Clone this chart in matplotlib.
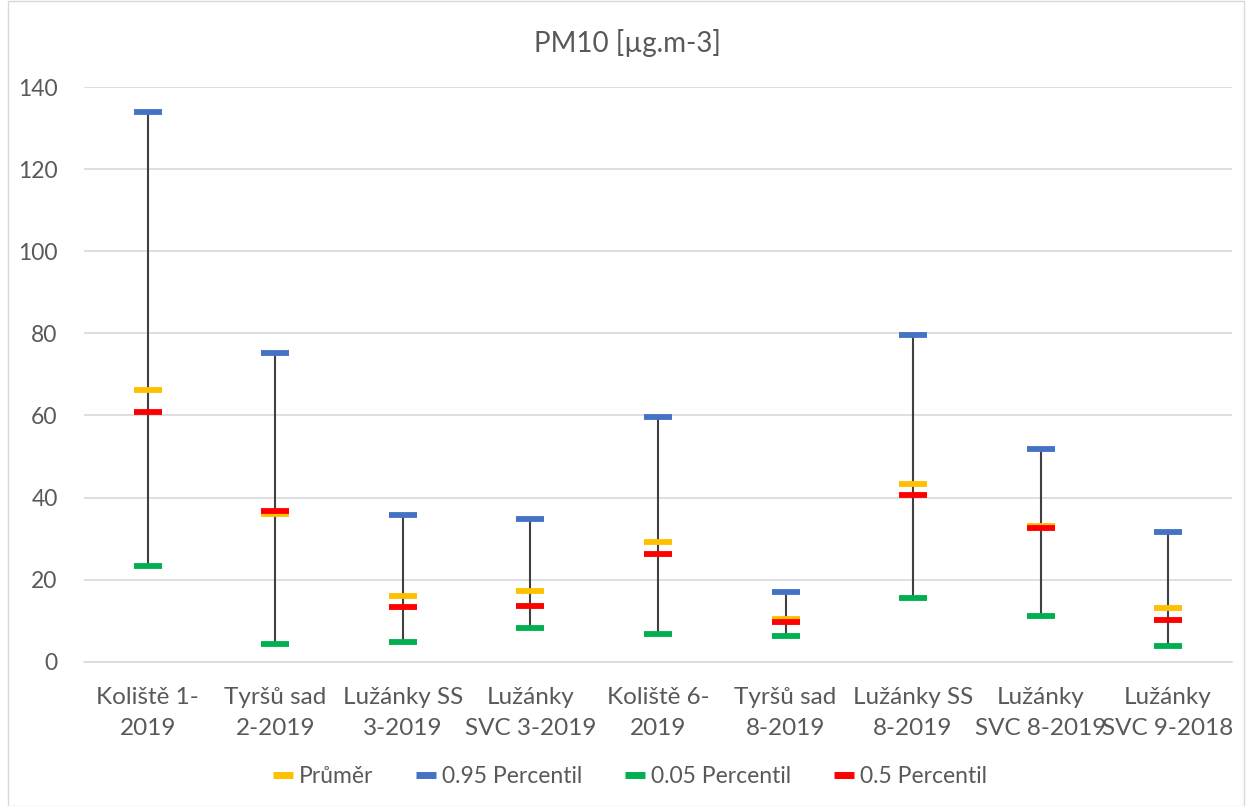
import matplotlib.pyplot as plt
import numpy as np
from matplotlib.lines import Line2D
from matplotlib.patches import Rectangle

plt.rcParams['font.family'] = ['Lato', 'DejaVu Sans']

categories = ["Koliště 1-\n2019", "Tyršů sad\n2-2019", "Lužánky SS\n3-2019",
              "Lužánky\nSVC 3-2019", "Koliště 6-\n2019", "Tyršů sad\n8-2019",
              "Lužánky SS\n8-2019", "Lužánky\nSVC 8-2019", "Lužánky\nSVC 9-2018"]
prumer = [66.3, 36.0, 16.1, 17.3, 29.2, 10.3, 43.2, 33.1, 13.2]
p95 = [133.8, 75.3, 35.8, 34.8, 59.6, 17.0, 79.6, 51.9, 31.7]
p05 = [23.3, 4.2, 4.7, 8.1, 6.7, 6.2, 15.6, 11.1, 3.8]
p50 = [60.9, 36.7, 13.3, 13.5, 26.3, 9.7, 40.6, 32.5, 10.1]

series = [("Průměr", prumer, "#FFC000"),
          ("0.95 Percentil", p95, "#4472C4"),
          ("0.05 Percentil", p05, "#00B050"),
          ("0.5 Percentil", p50, "#FF0000")]

fig = plt.figure(figsize=(12.49, 8.06), dpi=100)
ax = fig.add_axes([0.0673, 0.179, 0.919, 0.713])

x = np.arange(len(categories))
lows = np.min([prumer, p95, p05, p50], axis=0)
highs = np.max([prumer, p95, p05, p50], axis=0)
ax.vlines(x, lows, highs, color="#404040", linewidth=1.5, zorder=2)

for name, vals, col in series:
    ax.plot(x, vals, linestyle='none', marker='_', markersize=20,
            markeredgewidth=4.2, color=col, zorder=3, label=name)

ax.set_xlim(-0.5, len(categories) - 0.5)
ax.set_ylim(0, 140)
ax.set_yticks(np.arange(0, 141, 20))
ax.yaxis.grid(True, color="#D9D9D9", linewidth=1.2)
ax.set_axisbelow(True)
ax.set_xticks(x)
ax.set_xticklabels(categories, fontsize=17.5, color="#595959", linespacing=1.6)
ax.tick_params(axis='y', labelsize=16.5, labelcolor="#595959", length=0, pad=19)
ax.tick_params(axis='x', length=0, pad=18)
for s in ['top', 'right', 'left']:
    ax.spines[s].set_visible(False)
ax.spines['bottom'].set_color("#D9D9D9")
ax.spines['bottom'].set_linewidth(1.2)

fig.text(0.502, 0.947, "PM10 [µg.m-3]", fontsize=20, color="#595959",
         ha='center', va='center')

handles = [Line2D([], [], linestyle='none', marker='_', markersize=14,
                  markeredgewidth=5, color=col) for _, _, col in series]
fig.legend(handles, [s[0] for s in series], loc='center', bbox_to_anchor=(0.505, 0.037),
           ncol=4, frameon=False, fontsize=16.5, labelcolor="#595959",
           handlelength=0.8, handletextpad=0.3, columnspacing=1.9)

fig.patches.append(Rectangle((0.0065, 0.0), 0.9895, 0.999, transform=fig.transFigure,
                             fill=False, edgecolor="#D9D9D9", linewidth=1))

fig.savefig("out.png", dpi=100)
